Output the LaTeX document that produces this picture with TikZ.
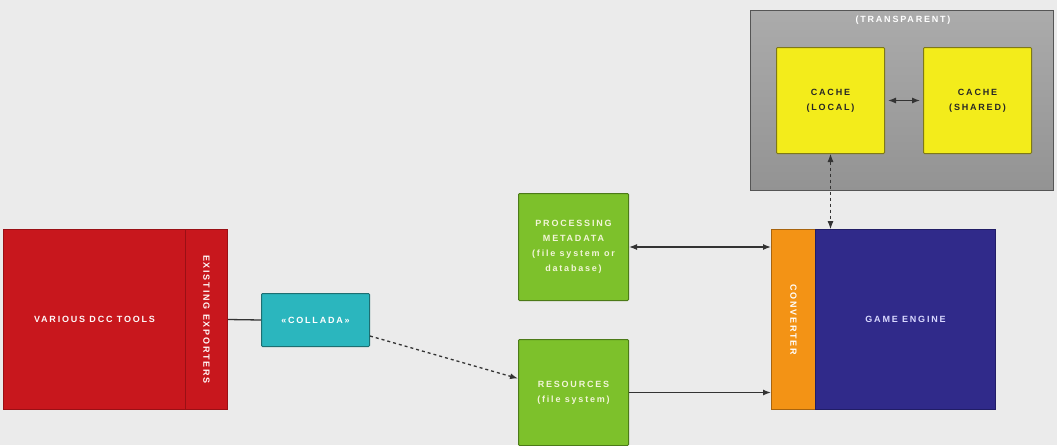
\documentclass[tikz,border=0pt]{standalone}
\usepackage{fontspec}
\newfontfamily\boxfont[LetterSpace=20]{Liberation Sans}
\usetikzlibrary{arrows.meta}
\definecolor{bggray}{HTML}{EBEBEB}
\definecolor{dccred}{HTML}{C8171D}
\definecolor{dccedge}{HTML}{9A1015}
\definecolor{tealbox}{HTML}{2BB6BE}
\definecolor{tealedge}{HTML}{1D6F72}
\definecolor{greenbox}{HTML}{7DC12B}
\definecolor{greenedge}{HTML}{4C7A18}
\definecolor{cacheyellow}{HTML}{F3EC1B}
\definecolor{cacheedge}{HTML}{7E7818}
\definecolor{convorange}{HTML}{F39315}
\definecolor{convedge}{HTML}{A8640E}
\definecolor{enginenavy}{HTML}{302A8A}
\definecolor{engineedge}{HTML}{211D66}
\definecolor{transtop}{HTML}{ABABAB}
\definecolor{transbottom}{HTML}{939393}
\definecolor{transedge}{HTML}{555555}
\definecolor{paletext}{HTML}{F2F5D8}
\tikzset{
  box/.style={draw, line width=1pt, inner sep=0pt, anchor=north west,
    rounded corners=1pt},
  label/.style={font={\boxfont\bfseries\fontsize{9}{15}\selectfont},
    align=center, inner sep=0pt},
  conn/.style={draw=black!80, line width=1.3pt},
  tip/.style={-{Latex[length=8pt,width=6pt]}},
  tips/.style={{Latex[length=8pt,width=6pt]}-{Latex[length=8pt,width=6pt]}},
}
\begin{document}
\begin{tikzpicture}[x=1pt,y=-1pt]
  \fill[bggray] (0,0) rectangle (1057,445);
  \useasboundingbox (0,0) rectangle (1057,445);
  % transparent cache layer
  \node[box, draw=transedge, line width=1.4pt, top color=transtop,
    bottom color=transbottom, rounded corners=0pt,
    minimum width=303pt, minimum height=180pt] (trans) at (750,10) {};
  \node[label, text=white] at (903,20) {(TRANSPARENT)};
  \node[box, draw=cacheedge, fill=cacheyellow, minimum width=108pt,
    minimum height=106pt] (local) at (776,47) {};
  \node[label, text=black!85] at (local) {CACHE\\(LOCAL)};
  \node[box, draw=cacheedge, fill=cacheyellow, minimum width=108pt,
    minimum height=106pt] (shared) at (923,47) {};
  \node[label, text=black!85] at (shared) {CACHE\\(SHARED)};
  % tools side
  \node[box, draw=dccedge, fill=dccred, minimum width=182pt,
    minimum height=180pt, rounded corners=0pt] (dcc) at (3,229) {};
  \node[label, text=white!90!pink] at (dcc) {VARIOUS DCC TOOLS};
  \node[box, draw=dccedge, fill=dccred, minimum width=42pt,
    minimum height=180pt, rounded corners=0pt] (exp) at (185,229) {};
  \node[label, text=white!90!pink, rotate=-90] at (exp) {EXISTING EXPORTERS};
  \node[box, draw=tealedge, fill=tealbox, minimum width=108pt,
    minimum height=53pt] (collada) at (261,293) {};
  \node[label, text=white] at (collada) {«COLLADA»};
  % data
  \node[box, draw=greenedge, fill=greenbox, minimum width=110pt,
    minimum height=107pt] (meta) at (518,193) {};
  \node[label, text=paletext] at (meta)
    {PROCESSING\\METADATA\\(file system or\\database)};
  \node[box, draw=greenedge, fill=greenbox, minimum width=110pt,
    minimum height=106pt] (res) at (518,339) {};
  \node[label, text=paletext] at (res) {RESOURCES\\(file system)};
  % engine
  \node[box, draw=convedge, fill=convorange, minimum width=44pt,
    minimum height=180pt, rounded corners=0pt] (conv) at (771,229) {};
  \node[label, text=white, rotate=-90] at (conv) {CONVERTER};
  \node[box, draw=engineedge, fill=enginenavy, minimum width=180pt,
    minimum height=180pt, rounded corners=0pt] (engine) at (815,229) {};
  \node[label, text=white!85!blue] at (engine) {GAME ENGINE};
  % connectors
  \draw[conn] (exp.east) -- (collada.west);
  \draw[conn, dashed, tip] ([yshift=11pt]collada.south east)
    -- ([yshift=14pt]res.west);
  \draw[conn, tips] (meta.east) -- (meta.east -| conv.west);
  \draw[conn, tip] (res.east) -- (res.east -| conv.west);
  \draw[conn, tips, line width=1.1pt] ([xshift=3pt]local.east)
    -- ([xshift=-3pt]shared.west);
  \draw[conn, dashed, tips, line width=0.8pt] (local.south)
    -- (local.south |- engine.north);
\end{tikzpicture}
\end{document}
